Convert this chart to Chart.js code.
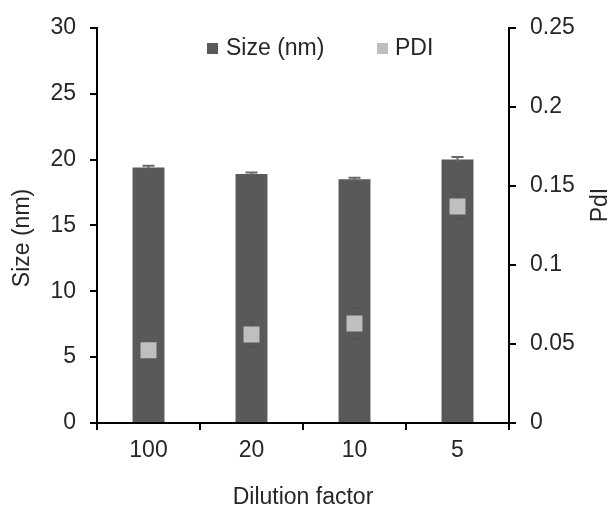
<!DOCTYPE html>
<html>
<head>
<meta charset="utf-8">
<script src="https://cdn.jsdelivr.net/npm/chart.js@4/dist/chart.umd.min.js"></script>
<style>
  html, body { margin: 0; padding: 0; background: #fff; }
  #wrap { width: 616px; height: 516px; }
</style>
</head>
<body>
<div id="wrap"><canvas id="c" width="616" height="516"></canvas></div>
<script>
// Dilution series and measured values
const dilutions = ['100', '20', '10', '5'];
const sizeNm = [19.4, 18.9, 18.5, 20.0];
const sizeErr = [0.12, 0.12, 0.12, 0.2];
const pdi = [0.046, 0.056, 0.063, 0.137];
const pdiErr = [0.004, 0.008, 0.01, 0.008];
const sizeTicks = [0, 5, 10, 15, 20, 25, 30];
const pdiTicks = [0, 0.05, 0.1, 0.15, 0.2, 0.25];

const FONT = 'Liberation Sans, Arial, sans-serif';
const FS = 23;
const TEXT = '#262626';
const BAR = '#595959';
const MARK = '#bfbfbf';

// Error bars for both series, drawn right after the bars so the PDI squares sit on top
const errorBars = {
  id: 'errorBars',
  afterDatasetDraw(chart, args) {
    if (args.index !== 0) return;
    const ctx = chart.ctx;
    const ys = chart.scales.y, y2 = chart.scales.y2, xs = chart.scales.x;
    ctx.save();
    sizeNm.forEach((v, i) => {
      const x = xs.getPixelForValue(i);
      const hi = ys.getPixelForValue(v + sizeErr[i]);
      const lo = ys.getPixelForValue(v - sizeErr[i]);
      ctx.strokeStyle = '#686868';
      ctx.lineWidth = 2;
      ctx.beginPath();
      ctx.moveTo(x, lo); ctx.lineTo(x, hi);
      ctx.moveTo(x - 6, hi); ctx.lineTo(x + 6, hi);
      ctx.stroke();
    });
    pdi.forEach((v, i) => {
      const x = xs.getPixelForValue(i);
      const hi = y2.getPixelForValue(v + pdiErr[i]);
      const lo = y2.getPixelForValue(v - pdiErr[i]);
      ctx.strokeStyle = '#525252';
      ctx.lineWidth = 1;
      ctx.beginPath();
      ctx.moveTo(x, lo); ctx.lineTo(x, hi);
      ctx.moveTo(x - 6, hi); ctx.lineTo(x + 6, hi);
      ctx.moveTo(x - 6, lo); ctx.lineTo(x + 6, lo);
      ctx.stroke();
    });
    ctx.restore();
  }
};

// Legend inside the plot plus the two vertical axis titles
const decorations = {
  id: 'decorations',
  afterDraw(chart) {
    const ctx = chart.ctx;
    ctx.save();
    ctx.font = FS + 'px ' + FONT;
    ctx.textBaseline = 'middle';
    ctx.fillStyle = BAR;
    ctx.fillRect(207, 43, 11, 11);
    ctx.fillStyle = TEXT;
    ctx.textAlign = 'left';
    ctx.fillText('Size (nm)', 226, 49);
    ctx.fillStyle = MARK;
    ctx.fillRect(377, 43, 11, 11);
    ctx.fillStyle = TEXT;
    ctx.fillText('PDI', 395, 49);

    ctx.textAlign = 'center';
    ctx.save();
    ctx.translate(23, 238);
    ctx.rotate(-Math.PI / 2);
    ctx.fillText('Size (nm)', 0, 0);
    ctx.restore();
    ctx.save();
    ctx.translate(601, 205);
    ctx.rotate(-Math.PI / 2);
    ctx.fillText('PdI', 0, 0);
    ctx.restore();
    ctx.restore();
  }
};

const axisLine = { display: true, color: '#000', width: 2 };

new Chart(document.getElementById('c'), {
  type: 'bar',
  data: {
    labels: dilutions,
    datasets: [
      {
        label: 'Size (nm)',
        data: sizeNm,
        backgroundColor: BAR,
        yAxisID: 'y',
        order: 2,
        barPercentage: 0.31,
        categoryPercentage: 1.0
      },
      {
        type: 'line',
        label: 'PDI',
        data: pdi,
        yAxisID: 'y2',
        order: 1,
        showLine: false,
        pointStyle: 'rect',
        pointRadius: 11.3,
        pointBackgroundColor: MARK,
        pointBorderWidth: 0,
        pointHoverRadius: 11.3
      }
    ]
  },
  options: {
    responsive: false,
    animation: false,
    devicePixelRatio: 1,
    layout: { padding: { top: 26, left: 0, right: 0, bottom: 0 } },
    plugins: {
      legend: { display: false },
      tooltip: { enabled: false }
    },
    scales: {
      x: {
        offset: true,
        border: axisLine,
        grid: { offset: true, drawOnChartArea: false, color: '#000', lineWidth: 2, tickLength: 7 },
        ticks: { color: TEXT, font: { family: FONT, size: FS }, padding: 7 },
        title: {
          display: true, text: 'Dilution factor', color: TEXT,
          font: { family: FONT, size: FS }, padding: { top: 0, bottom: 5 }
        },
        afterFit(s) { s.height = 93; }
      },
      y: {
        position: 'left',
        min: 0, max: 30,
        border: axisLine,
        grid: { drawOnChartArea: false, color: '#000', lineWidth: 2, tickLength: 7 },
        afterBuildTicks(s) { s.ticks = sizeTicks.map(v => ({ value: v })); },
        ticks: { color: TEXT, font: { family: FONT, size: FS }, padding: 14 },
        afterFit(s) { s.width = 97; }
      },
      y2: {
        position: 'right',
        min: 0, max: 0.25,
        border: axisLine,
        grid: { drawOnChartArea: false, color: '#000', lineWidth: 2, tickLength: 7 },
        afterBuildTicks(s) { s.ticks = pdiTicks.map(v => ({ value: v })); },
        ticks: {
          color: TEXT, font: { family: FONT, size: FS }, padding: 14,
          callback: (v) => String(+v.toFixed(2))
        },
        afterFit(s) { s.width = 107; }
      }
    }
  },
  plugins: [errorBars, decorations]
});
</script>
</body>
</html>
